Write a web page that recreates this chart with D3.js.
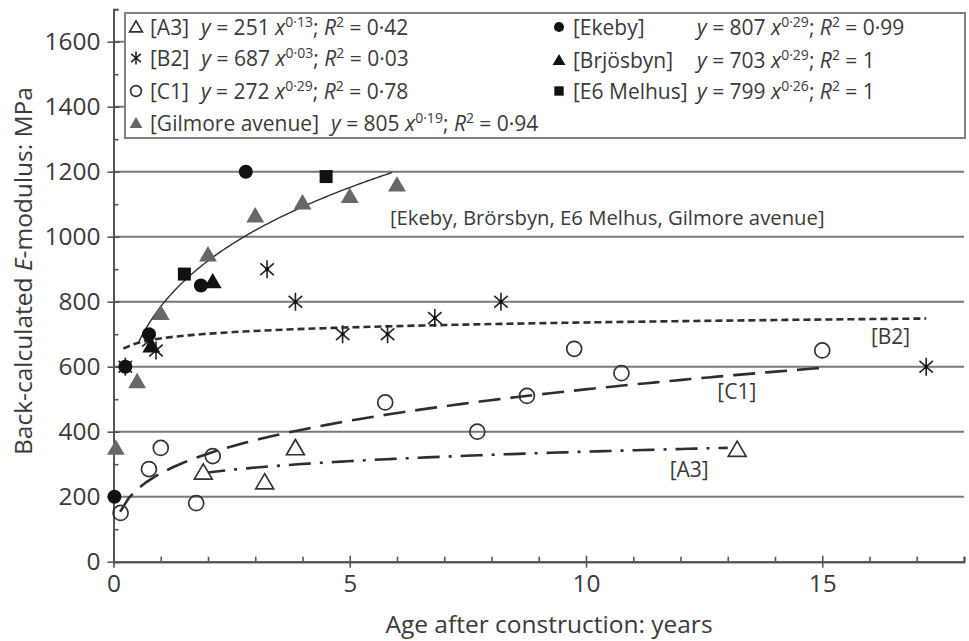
<!DOCTYPE html>
<html>
<head>
<meta charset="utf-8">
<script src="https://cdn.jsdelivr.net/npm/d3@7/dist/d3.min.js"></script>
<style>
  body { margin: 0; background: #fff; }
  svg { font-family: 'Open Sans', 'Noto Sans', sans-serif; }
</style>
</head>
<body>
<svg id="chart" width="969" height="641"></svg>
<script>
const a3X = [1.9, 3.2, 3.85, 13.2];
const a3Y = [275, 245, 350, 345];
const b2X = [0.25, 0.75, 0.9, 3.25, 3.85, 4.85, 5.8, 6.8, 8.2, 17.2];
const b2Y = [600, 680, 650, 900, 800, 700, 700, 750, 800, 600];
const c1X = [0.15, 0.75, 1.0, 1.75, 2.1, 5.75, 7.7, 8.75, 9.75, 10.75, 15.0];
const c1Y = [150, 285, 350, 180, 325, 490, 400, 510, 655, 580, 650];
const gilmoreX = [0.05, 0.5, 1.0, 2.0, 3.0, 4.0, 5.0, 6.0];
const gilmoreY = [350, 555, 765, 945, 1065, 1105, 1125, 1160];
const ekebyX = [0.02, 0.25, 0.75, 1.85, 2.8];
const ekebyY = [200, 600, 700, 850, 1200];
const brjosbynX = [0.8, 2.1];
const brjosbynY = [665, 862];
const melhusX = [1.5, 4.5];
const melhusY = [885, 1185];

// fitted curves y = a x^b, with the x range each is drawn over
const fitNames = ['combined', 'B2', 'C1', 'A3'];
const fitCoef = [785, 687, 272, 251];
const fitExp = [0.238, 0.03, 0.29, 0.13];
const fitFrom = [0.52, 0.21, 0.14, 1.9];
const fitTo = [5.9, 17.2, 15.0, 13.0];

// legend
const legendNames = ['[A3]', '[B2]', '[C1]', '[Gilmore avenue]', '[Ekeby]', '[Brjösbyn]', '[E6 Melhus]'];
const legendCoef = ['251', '687', '272', '805', '807', '703', '799'];
const legendExp = ['0·13', '0·03', '0·29', '0·19', '0·29', '0·29', '0·26'];
const legendR2 = ['0·42', '0·03', '0·78', '0·94', '0·99', '1', '1'];
const legendSymbols = ['triOpen', 'star', 'circleOpen', 'triGray', 'circle', 'triBlack', 'square'];

const xTicks = [0, 5, 10, 15];
const yTicks = [0, 200, 400, 600, 800, 1000, 1200, 1400, 1600];

const svg = d3.select('#chart');
const textColor = '#3a3a3a';
const plotLeft = 113.5, plotRight = 964, plotTop = 9.2, plotBottom = 561.7;

const x = d3.scaleLinear().domain([0, 18]).range([plotLeft, plotRight]);
const y = d3.scaleLinear().domain([0, 1700]).range([plotBottom, plotTop]);

// grid lines
svg.append('g')
  .selectAll('line')
  .data(yTicks.slice(1))
  .enter()
  .append('line')
  .attr('x1', plotLeft)
  .attr('x2', plotRight)
  .attr('y1', function(d) { return y(d); })
  .attr('y2', function(d) { return y(d); })
  .attr('stroke', '#7a7a7a')
  .attr('stroke-width', 2);

// axes
const axisColor = '#555';
const yMinor = svg.append('g')
  .attr('transform', 'translate(' + plotLeft + ',0)')
  .call(d3.axisRight(y).tickValues(d3.range(100, 1800, 200)).tickSize(5).tickFormat(''));
const yMajor = svg.append('g')
  .attr('transform', 'translate(' + plotLeft + ',0)')
  .call(d3.axisLeft(y).tickValues(yTicks).tickSize(0).tickPadding(13).tickFormat(d3.format('d')));
yMajor.selectAll('.tick').append('line')
  .attr('x1', -6).attr('x2', 6);
const xMinor = svg.append('g')
  .attr('transform', 'translate(0,' + plotBottom + ')')
  .call(d3.axisTop(x).tickValues(d3.range(1, 19).filter(function(d) { return d % 5 !== 0; })).tickSize(5).tickFormat(''));
const xMajor = svg.append('g')
  .attr('transform', 'translate(0,' + plotBottom + ')')
  .call(d3.axisBottom(x).tickValues(xTicks).tickSize(0).tickPadding(13).tickFormat(d3.format('d')));
xMajor.selectAll('.tick').append('line')
  .attr('y1', -6).attr('y2', 6);

[yMinor, yMajor, xMinor, xMajor].forEach(function(g) {
  g.selectAll('path').attr('stroke', axisColor).attr('stroke-width', 2);
  g.selectAll('line').attr('stroke', axisColor).attr('stroke-width', 1.6);
  g.selectAll('text')
    .attr('fill', textColor)
    .attr('font-size', 24.5)
    .attr('font-family', "'Open Sans', sans-serif");
});

// axis titles
svg.append('text')
  .attr('x', 549)
  .attr('y', 633)
  .attr('text-anchor', 'middle')
  .attr('font-size', 24.5)
  .attr('fill', textColor)
  .text('Age after construction: years');

const yTitle = svg.append('text')
  .attr('transform', 'translate(32,271) rotate(-90)')
  .attr('text-anchor', 'middle')
  .attr('font-size', 24.5)
  .attr('fill', textColor);
yTitle.append('tspan').text('Back-calculated ');
yTitle.append('tspan').attr('font-style', 'italic').text('E');
yTitle.append('tspan').text('-modulus: MPa');

// fitted curves
const curveStyles = [
  { width: 1.4, dash: null },
  { width: 2.6, dash: '7,4' },
  { width: 2.6, dash: '22,10' },
  { width: 2.6, dash: '22,9,3,9' },
];
const line = d3.line()
  .x(function(d) { return x(d[0]); })
  .y(function(d) { return y(d[1]); });
fitNames.forEach(function(name, i) {
  const n = 80;
  const pts = d3.range(n + 1).map(function(k) {
    const xv = fitFrom[i] + (fitTo[i] - fitFrom[i]) * k / n;
    return [xv, fitCoef[i] * Math.pow(xv, fitExp[i])];
  });
  svg.append('path')
    .attr('class', 'fit fit-' + name)
    .attr('d', line(pts))
    .attr('fill', 'none')
    .attr('stroke', '#2e2e2e')
    .attr('stroke-width', curveStyles[i].width)
    .attr('stroke-dasharray', curveStyles[i].dash);
});

// marker drawing
function drawMarker(g, type, cx, cy, s) {
  s = s || 1;
  if (type === 'circle') {
    g.append('circle').attr('cx', cx).attr('cy', cy).attr('r', 7 * s).attr('fill', '#111');
  } else if (type === 'circleOpen') {
    g.append('circle').attr('cx', cx).attr('cy', cy).attr('r', 7.5 * s)
      .attr('fill', 'none').attr('stroke', '#333').attr('stroke-width', 1.7);
  } else if (type === 'square') {
    g.append('rect').attr('x', cx - 6.5 * s).attr('y', cy - 6.5 * s)
      .attr('width', 13 * s).attr('height', 13 * s).attr('fill', '#111');
  } else if (type === 'triGray' || type === 'triBlack' || type === 'triOpen') {
    const h = 8.5 * s;
    const p = [[cx, cy - h], [cx + h * 1.05, cy + h * 0.8], [cx - h * 1.05, cy + h * 0.8]];
    const tri = g.append('path').attr('d', 'M' + p.join('L') + 'Z');
    if (type === 'triOpen') {
      tri.attr('fill', '#fff').attr('stroke', '#333').attr('stroke-width', 1.7);
    } else {
      tri.attr('fill', type === 'triGray' ? '#676767' : '#111');
    }
  } else if (type === 'star') {
    const r = 9 * s;
    const d = 'M' + cx + ',' + (cy - r) + 'L' + cx + ',' + (cy + r) +
      'M' + (cx - r * 0.75) + ',' + (cy - r * 0.65) + 'L' + (cx + r * 0.75) + ',' + (cy + r * 0.65) +
      'M' + (cx + r * 0.75) + ',' + (cy - r * 0.65) + 'L' + (cx - r * 0.75) + ',' + (cy + r * 0.65);
    g.append('path').attr('d', d).attr('fill', 'none').attr('stroke', '#222').attr('stroke-width', 1.6);
    g.append('circle').attr('cx', cx).attr('cy', cy).attr('r', 1.9 * s).attr('fill', '#111');
  }
}

const seriesList = [
  { xs: a3X, ys: a3Y, sym: 'triOpen' },
  { xs: c1X, ys: c1Y, sym: 'circleOpen' },
  { xs: gilmoreX, ys: gilmoreY, sym: 'triGray' },
  { xs: b2X, ys: b2Y, sym: 'star' },
  { xs: ekebyX, ys: ekebyY, sym: 'circle' },
  { xs: brjosbynX, ys: brjosbynY, sym: 'triBlack' },
  { xs: melhusX, ys: melhusY, sym: 'square' },
];
const points = svg.append('g').attr('class', 'points');
seriesList.forEach(function(s) {
  s.xs.forEach(function(xv, i) {
    drawMarker(points, s.sym, x(xv), y(s.ys[i]));
  });
});

// curve labels
const curveLabels = ['[Ekeby, Brörsbyn, E6 Melhus, Gilmore avenue]', '[B2]', '[C1]', '[A3]'];
const curveLabelX = [5.85, 16.03, 12.78, 11.77];
const curveLabelY = [1057, 691, 522, 282];
const curveLabelSize = [20.3, 21, 21, 21];
curveLabels.forEach(function(label, i) {
  svg.append('text')
    .attr('x', x(curveLabelX[i]))
    .attr('y', y(curveLabelY[i]))
    .attr('dy', '0.35em')
    .attr('font-size', curveLabelSize[i])
    .attr('fill', textColor)
    .text(label);
});

// legend
const legend = svg.append('g').attr('class', 'legend');
legend.append('rect')
  .attr('x', 125).attr('y', 13)
  .attr('width', 840).attr('height', 125)
  .attr('fill', '#fff')
  .attr('stroke', '#808080')
  .attr('stroke-width', 2);

const legendRowY = [27, 58, 91, 123, 27, 60, 91];
legendNames.forEach(function(name, i) {
  const rightCol = i >= 4;
  const mx = rightCol ? 559 : 136;
  const cy = legendRowY[i];
  drawMarker(legend, legendSymbols[i], mx, cy, 0.72);
  const t = legend.append('text')
    .attr('x', mx + 14)
    .attr('y', cy)
    .attr('dy', '0.36em')
    .attr('font-size', 21)
    .attr('fill', textColor);
  t.append('tspan').text(name);
  const eq = t.append('tspan');
  if (rightCol) {
    eq.attr('x', 697);
  } else {
    eq.attr('dx', 12);
  }
  eq.attr('font-style', 'italic').text('y');
  t.append('tspan').text(' = ' + legendCoef[i] + ' ');
  t.append('tspan').attr('font-style', 'italic').text('x');
  t.append('tspan').attr('font-size', 14).attr('dy', -8).text(legendExp[i]);
  t.append('tspan').attr('dy', 8).text('; ');
  t.append('tspan').attr('font-style', 'italic').text('R');
  t.append('tspan').attr('font-size', 14).attr('dy', -8).text('2');
  t.append('tspan').attr('dy', 8).text(' = ' + legendR2[i]);
});
</script>
</body>
</html>
